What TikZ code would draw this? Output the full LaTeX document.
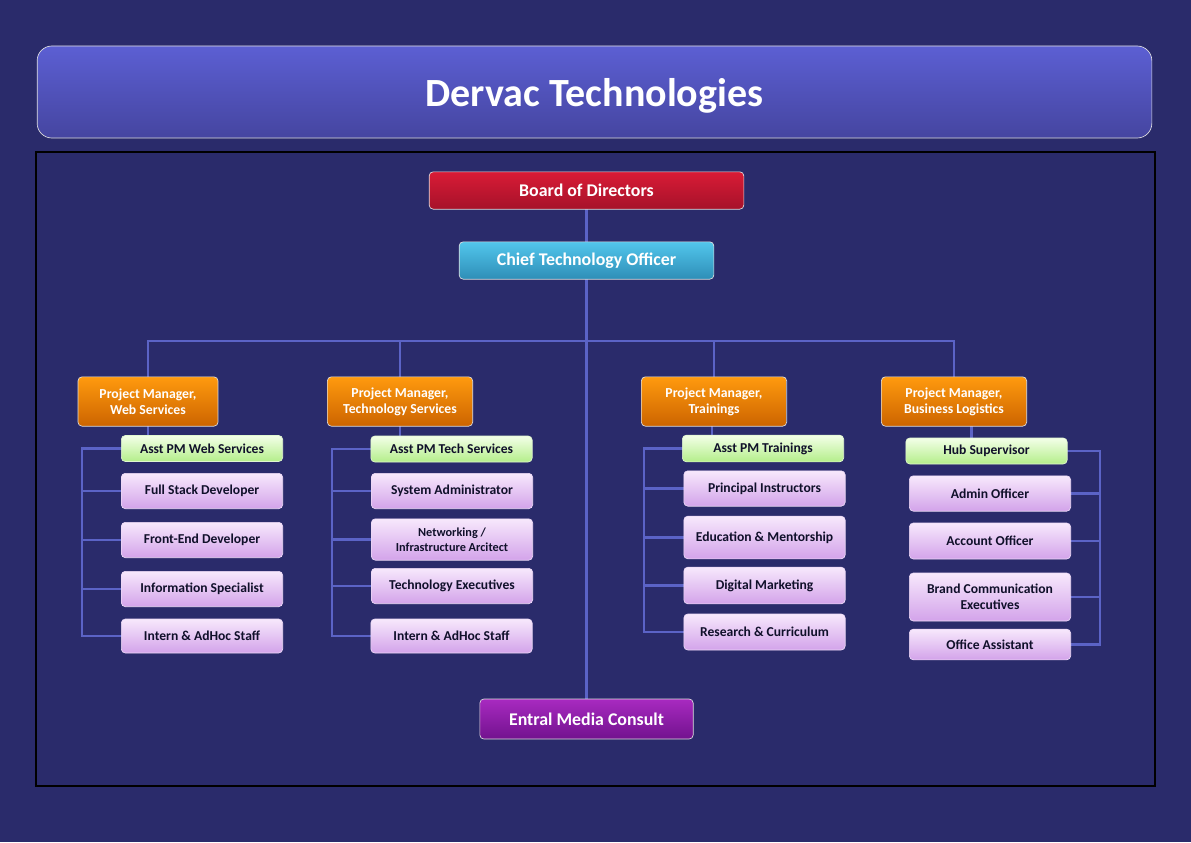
\documentclass[tikz,border=0pt]{standalone}
\usepackage{fontspec}
\setmainfont{Carlito}
\usepackage{xcolor}
\usetikzlibrary{positioning,calc,backgrounds}

\definecolor{bgnavy}{HTML}{2A2B6B}
\definecolor{titletop}{HTML}{5C5FD3}
\definecolor{titlebot}{HTML}{4545A0}
\definecolor{boardtop}{HTML}{D91B36}
\definecolor{boardbot}{HTML}{A6122A}
\definecolor{ctotop}{HTML}{52C6EC}
\definecolor{ctobot}{HTML}{2E8EB7}
\definecolor{pmtop}{HTML}{FF9A0E}
\definecolor{pmbot}{HTML}{CC6400}
\definecolor{asttop}{HTML}{F3FFE8}
\definecolor{astbot}{HTML}{B4EE8A}
\definecolor{stafftop}{HTML}{F7E8FC}
\definecolor{staffbot}{HTML}{D3A3EA}
\definecolor{enttop}{HTML}{A82AC0}
\definecolor{entbot}{HTML}{72128E}
\definecolor{linkblue}{HTML}{5B63C6}
\definecolor{darktext}{HTML}{10102A}

\tikzset{
  box/.style={rectangle, rounded corners=3pt, draw=white!75!gray, line width=0.5pt,
    align=center, text=white, inner sep=1pt},
  titlebox/.style={box, rounded corners=11pt, top color=titletop, bottom color=titlebot,
    minimum width=836pt, minimum height=69pt, text depth=0pt,
    font=\bfseries\fontsize{30}{36}\selectfont},
  topbox/.style={box, minimum height=28pt, font=\bfseries\fontsize{13.4}{16}\selectfont},
  pmbox/.style={box, top color=pmtop, bottom color=pmbot, minimum width=109pt,
    minimum height=37pt, font=\bfseries\fontsize{10.3}{12}\selectfont},
  astbox/.style={box, top color=asttop, bottom color=astbot, draw=white!60!astbot,
    text=darktext, minimum width=121pt, minimum height=19.5pt,
    font=\bfseries\fontsize{10.2}{12}\selectfont},
  staffbox/.style={box, top color=stafftop, bottom color=staffbot, draw=white!60!staffbot,
    text=darktext, minimum width=121pt, minimum height=26.5pt,
    font=\bfseries\fontsize{10.2}{12}\selectfont},
  link/.style={draw=linkblue, line width=2.2pt, line cap=rect},
}

\begin{document}
\begin{tikzpicture}[x=0.75pt,y=-0.75pt]
    \useasboundingbox (0,0) rectangle (1191,842);
    \begin{scope}[on background layer]
        \fill[bgnavy] (0,0) rectangle (1191,842);
    \end{scope}

    % Title
    \node[titlebox] (title) at (594.5,92) {Dervac Technologies};
    \draw[black, line width=1.5pt] (36,152) rectangle (1155,786);

    % Top of the tree
    \node[topbox, top color=boardtop, bottom color=boardbot, minimum width=236pt] (bod) at (586.5,190.5) {Board of Directors};
    \node[topbox, top color=ctotop, bottom color=ctobot, minimum width=191pt] (cto) at (586.5,260.5) {Chief Technology Officer};
    \node[topbox, top color=enttop, bottom color=entbot, minimum width=160pt, minimum height=30pt] (ent) at (586.5,719) {Entral Media Consult};

    % Project managers
    \node[pmbox, minimum width=105pt] (pmw) at (148,401.5) {Project Manager,\\Web Services};
    \node[pmbox] (pmt) at (400,401.5) {Project Manager,\\Technology Services};
    \node[pmbox] (pmr) at (714,401.5) {Project Manager,\\Trainings};
    \node[pmbox] (pmb) at (954,401.5) {Project Manager,\\Business Logistics};

    % Web Services
    \node[astbox] (aw) at (202,448.5) {Asst PM Web Services};
    \node[staffbox] (fs) at (202,491) {Full Stack Developer};
    \node[staffbox] (fe) at (202,540) {Front-End Developer};
    \node[staffbox] (is) at (202,589) {Information Specialist};
    \node[staffbox, minimum height=25.5pt] (iw) at (202,636) {Intern \& AdHoc Staff};

    % Technology Services
    \node[astbox] (at) at (451.5,449) {Asst PM Tech Services};
    \node[staffbox] (sa) at (452,491) {System Administrator};
    \node[staffbox, minimum height=31pt, font=\bfseries\fontsize{9.2}{11}\selectfont] (nw) at (452,539.5) {Networking /\\Infrastructure Arcitect};
    \node[staffbox] (te) at (452,586) {Technology Executives};
    \node[staffbox, minimum height=25.5pt] (it) at (451.5,636) {Intern \& AdHoc Staff};

    % Trainings
    \node[astbox, minimum height=20pt] (ar) at (763,448.5) {Asst PM Trainings};
    \node[staffbox] (pi) at (764.5,488.5) {Principal Instructors};
    \node[staffbox, minimum height=32pt] (em) at (764.5,537.5) {Education \& Mentorship};
    \node[staffbox, minimum height=27.5pt] (dm) at (764.5,585.5) {Digital Marketing};
    \node[staffbox, minimum height=27pt] (rc) at (764.5,632) {Research \& Curriculum};

    % Business Logistics
    \node[astbox] (hub) at (986.5,451) {Hub Supervisor};
    \node[staffbox] (ao) at (990,493.5) {Admin Officer};
    \node[staffbox, minimum height=27pt] (ac) at (990,541) {Account Officer};
    \node[staffbox, minimum height=36pt] (bc) at (990,597) {Brand Communication\\Executives};
    \node[staffbox, minimum height=23pt] (oa) at (990,644.5) {Office Assistant};

    \coordinate (bus) at (586,341);
    \coordinate (b1) at (82,0);
    \coordinate (b2) at (332,0);
    \coordinate (b3) at (644,0);
    \coordinate (b4) at (1100,0);

    \begin{scope}[on background layer]
        \draw[link] (bod) -- (cto);
        \draw[link] (cto) -- (ent);
        \draw[link] (pmw.north) -- (pmw.north |- bus) -- (pmb.north |- bus) -- (pmb.north);
        \foreach \p in {pmt,pmr}
            \draw[link] (\p.north) -- (\p.north |- bus);

        % brackets
        \draw[link] (pmw.south) -- (pmw.south |- aw.north);
        \draw[link] (aw.west -| b1) -- (iw.west -| b1);
        \foreach \n in {aw,fs,fe,is,iw}
            \draw[link] (\n.west) -- (\n.west -| b1);

        \draw[link] (pmt.south) -- (pmt.south |- at.north);
        \draw[link] (at.west -| b2) -- (it.west -| b2);
        \foreach \n in {at,sa,nw,te,it}
            \draw[link] (\n.west) -- (\n.west -| b2);

        \draw[link] ([xshift=-1.5pt]pmr.south) -- ([xshift=-1.5pt]pmr.south |- ar.north);
        \draw[link] (ar.west -| b3) -- (rc.west -| b3);
        \foreach \n in {ar,pi,em,dm,rc}
            \draw[link] (\n.west) -- (\n.west -| b3);

        \draw[link] ([xshift=13pt]pmb.south) -- ([xshift=13pt]pmb.south |- hub.north);
        \draw[link] (hub.east -| b4) -- (oa.east -| b4);
        \foreach \n in {hub,ao,ac,bc,oa}
            \draw[link] (\n.east) -- (\n.east -| b4);
    \end{scope}
\end{tikzpicture}
\end{document}
